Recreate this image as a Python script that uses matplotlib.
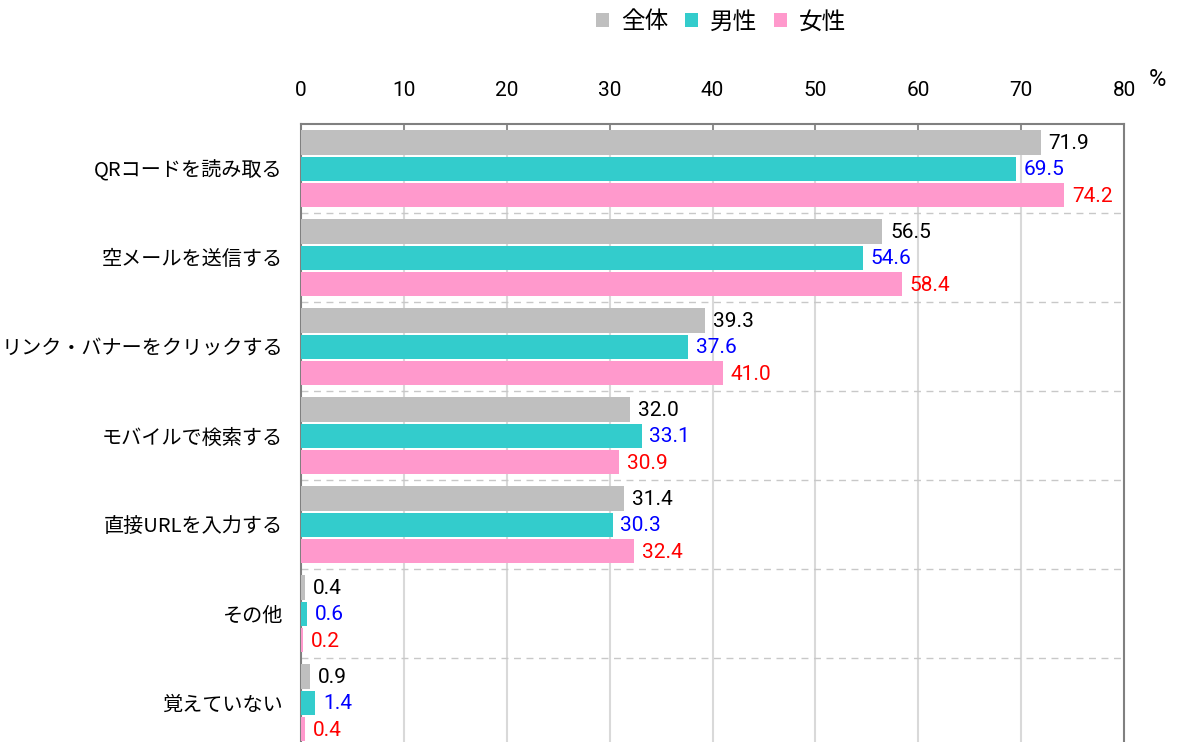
import matplotlib
matplotlib.use("Agg")
import matplotlib.pyplot as plt
import numpy as np

plt.rcParams['font.family'] = ['Noto Sans CJK JP', 'DejaVu Sans']

categories = ["QRコードを読み取る", "空メールを送信する", "リンク・バナーをクリックする",
              "モバイルで検索する", "直接URLを入力する", "その他", "覚えていない"]
series_names = ["全体", "男性", "女性"]
zentai = [71.9, 56.5, 39.3, 32.0, 31.4, 0.4, 0.9]
dansei = [69.5, 54.6, 37.6, 33.1, 30.3, 0.6, 1.4]
josei = [74.2, 58.4, 41.0, 30.9, 32.4, 0.2, 0.4]
xticks = [0, 10, 20, 30, 40, 50, 60, 70, 80]

bar_colors = ["#BFBFBF", "#33CCCC", "#FF99CC"]
label_colors = ["black", "#0000FF", "#FF0000"]
num_font = ['Roboto', 'DejaVu Sans']

W, H = 1178, 742
fig = plt.figure(figsize=(W / 100, H / 100), dpi=100)
left, right, top, bottom = 301, 1124, 124, 747
ax = fig.add_axes([left / W, 1 - bottom / H, (right - left) / W, (bottom - top) / H])

n = len(categories)
ax.set_xlim(0, 80)
ax.set_ylim(n, 0)

pitch = 0.297
bh = 0.27
offsets = [-pitch, 0, pitch]
for si, vals in enumerate([zentai, dansei, josei]):
    for ci, v in enumerate(vals):
        yc = ci + 0.5 + offsets[si] + 0.005
        ax.barh(yc, v, height=bh, color=bar_colors[si], edgecolor='none', zorder=3)
        ax.text(v + 0.75, yc + 0.01, f"{v:.1f}", va='center', ha='left',
                fontsize=15, color=label_colors[si], family=num_font, zorder=4)

# grid
for x in xticks[1:-1]:
    ax.axvline(x, color='#D9D9D9', lw=1.5, zorder=1)
for i in range(1, n):
    ax.axhline(i, color='#C8C8C8', lw=1, ls=(0, (5, 4)), zorder=1)

ax.set_yticks([i + 0.5 for i in range(n)])
ax.set_yticklabels(categories, fontsize=14.5)
ax.tick_params(axis='y', length=0, pad=13)

ax.xaxis.tick_top()
ax.set_xticks(xticks)
ax.set_xticklabels([str(x) for x in xticks], fontsize=15, family=num_font)
ax.tick_params(axis='x', direction='in', length=6, width=1.2, color='#808080', pad=17)

for s in ['top', 'left', 'right']:
    ax.spines[s].set_color('#808080')
    ax.spines[s].set_linewidth(1.5)
ax.spines['bottom'].set_visible(False)

fig.text(1157 / W, 1 - 80 / H, "%", fontsize=17, ha='center', va='center',
         family=num_font)

# legend
from matplotlib.patches import Patch
handles = [Patch(facecolor=c, edgecolor='none') for c in bar_colors]
fig.legend(handles, series_names, loc='center', bbox_to_anchor=(721 / W, 1 - 22 / H),
           ncol=3, frameon=False, fontsize=17, handlelength=0.55, handleheight=0.55,
           handletextpad=0.5, columnspacing=0.7)

fig.savefig("out.png", dpi=100)
